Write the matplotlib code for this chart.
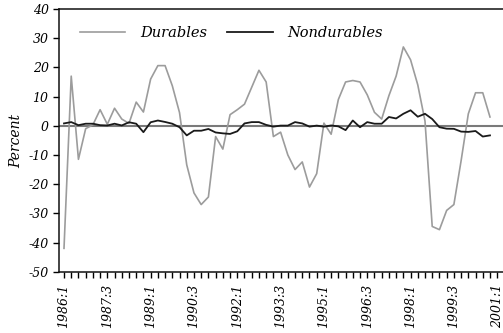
import numpy as np
import matplotlib
matplotlib.use("Agg")
import matplotlib.pyplot as plt
from matplotlib.ticker import FixedLocator

# ---- data (quarterly, starting 1986:1) ----
durables = [-42, 17, -11.5, -1, 0.3, 5.5, 0.5, 6, 2.3, 0.8,
            8.1, 4.7, 16, 20.6, 20.6, 13.7, 4.5, -13.4, -23, -27,
            -24.4, -3.7, -8, 3.8, 5.5, 7.4, 13.2, 19, 15, -3.7,
            -2.2, -10, -15, -12.4, -21, -16.4, 0.9, -2.9, 9, 15,
            15.5, 15, 10.6, 4.6, 2.3, 10.3, 17, 27, 22.6, 14,
            1.6, -34.5, -35.6, -29, -27, -12, 4.1, 11.3, 11.3, 3]
nondurables = [0.8, 1.25, 0.2, 0.7, 0.7, 0.2, 0.1, 0.7, 0.1, 1.2,
               0.7, -2.2, 1.2, 1.8, 1.3, 0.7, -0.5, -3.3, -1.7, -1.7,
               -1.1, -2.3, -2.6, -2.8, -1.9, 0.8, 1.25, 1.25, 0.3, -0.3,
               0.05, 0.05, 1.25, 0.8, -0.3, 0.05, -0.3, 0.1, -0.2, -1.5,
               1.8, -0.5, 1.25, 0.7, 0.7, 3.0, 2.5, 4.1, 5.3, 3.1,
               4.1, 2.3, -0.5, -1.0, -1.05, -2.0, -2.1, -1.8, -3.7, -3.3]
start_year = 1986
tick_labels = ["1986:1", "1987:3", "1989:1", "1990:3", "1992:1", "1993:3",
               "1995:1", "1996:3", "1998:1", "1999:3", "2001:1"]
y_ticks = [40, 30, 20, 10, 0, -10, -20, -30, -40, -50]
series_names = ["Durables", "Nondurables"]


def qindex(lbl):
    y, q = lbl.split(":")
    return (int(y) - start_year) * 4 + int(q) - 1


W, H = 503, 333
fig = plt.figure(figsize=(W / 100, H / 100), dpi=100)

px = 7.22         # pixels per quarter
x0 = 64.0         # pixel of first quarter
left_px = 59.0
top_px, bot_px = 9.0, 271.7
xmax = 63
xlim_left = (left_px - x0) / px
right_px = x0 + xmax * px
ax = fig.add_axes([left_px / W, 1 - bot_px / H, (right_px - left_px) / W,
                   (bot_px - top_px) / H])
ax.set_xlim(xlim_left, xmax)
ax.set_ylim(-50, 40)

x = np.arange(len(durables))
ax.axhline(0, color="#7a7a7a", lw=1.5, zorder=1)
ax.plot(x, durables, color="#9c9c9c", lw=1.2, label=series_names[0], zorder=2)
ax.plot(x, nondurables, color="#1a1a1a", lw=1.3, label=series_names[1], zorder=3)

font = dict(family="DejaVu Serif", style="italic")

ax.spines["right"].set_visible(False)
for s in ["left", "top", "bottom"]:
    ax.spines[s].set_linewidth(1.1)
    ax.spines[s].set_color("#111111")

ax.set_yticks(y_ticks)
ax.set_yticklabels([str(v) for v in y_ticks], fontsize=9, **font)
ax.tick_params(axis="y", direction="out", length=4.5, width=1, pad=3)

ax.xaxis.set_major_locator(FixedLocator([qindex(l) for l in tick_labels]))
ax.set_xticklabels(tick_labels, rotation=90, fontsize=9, **font)
ax.xaxis.set_minor_locator(FixedLocator(list(range(0, xmax + 1))))
ax.tick_params(axis="x", which="both", direction="out", length=4, width=1, pad=5)

leg = ax.legend(loc="center", bbox_to_anchor=(231.5 / W, 1 - 33 / H),
                bbox_transform=fig.transFigure, ncol=2, frameon=False,
                prop=dict(family="DejaVu Serif", style="italic", size=10.5),
                handlelength=3.1, handletextpad=1.0, columnspacing=1.4)

fig.text(16 / W, 1 - 141 / H, "Percent", rotation=90, ha="center", va="center",
         fontsize=10, **font)

fig.savefig("out.png", dpi=100)
